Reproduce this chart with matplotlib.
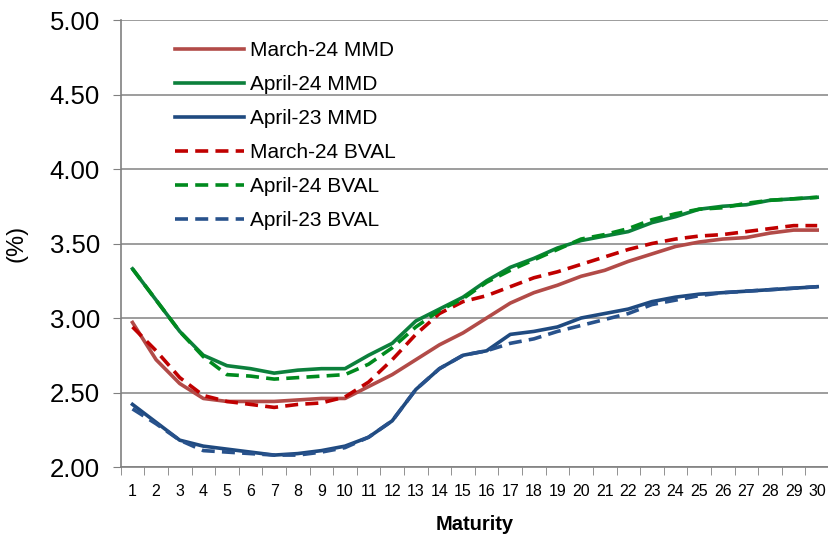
import numpy as np
import matplotlib
matplotlib.use('Agg')
import matplotlib.pyplot as plt

plt.rcParams['font.family'] = ['Liberation Sans', 'DejaVu Sans']

# maturity in years
maturity = np.arange(1, 31)

mar24_mmd = [2.97, 2.72, 2.56, 2.46, 2.44, 2.44, 2.44, 2.45, 2.46, 2.46,
             2.54, 2.62, 2.72, 2.82, 2.90, 3.00, 3.10, 3.17, 3.22, 3.28,
             3.32, 3.38, 3.43, 3.48, 3.51, 3.53, 3.54, 3.57, 3.59, 3.59]
apr24_mmd = [3.33, 3.12, 2.91, 2.75, 2.68, 2.66, 2.63, 2.65, 2.66, 2.66,
             2.75, 2.83, 2.98, 3.06, 3.14, 3.25, 3.34, 3.40, 3.47, 3.52,
             3.55, 3.58, 3.64, 3.68, 3.73, 3.75, 3.76, 3.79, 3.80, 3.81]
apr23_mmd = [2.42, 2.30, 2.18, 2.14, 2.12, 2.10, 2.08, 2.09, 2.11, 2.14,
             2.20, 2.31, 2.52, 2.66, 2.75, 2.78, 2.89, 2.91, 2.94, 3.00,
             3.03, 3.06, 3.11, 3.14, 3.16, 3.17, 3.18, 3.19, 3.20, 3.21]
mar24_bval = [2.94, 2.78, 2.60, 2.48, 2.44, 2.42, 2.40, 2.42, 2.43, 2.47,
              2.57, 2.72, 2.89, 3.03, 3.11, 3.15, 3.21, 3.27, 3.31, 3.36,
              3.41, 3.46, 3.50, 3.53, 3.55, 3.56, 3.58, 3.60, 3.62, 3.62]
apr24_bval = [3.33, 3.12, 2.91, 2.74, 2.62, 2.61, 2.59, 2.60, 2.61, 2.62,
              2.69, 2.80, 2.94, 3.05, 3.13, 3.24, 3.32, 3.39, 3.46, 3.53,
              3.56, 3.60, 3.66, 3.70, 3.73, 3.74, 3.77, 3.79, 3.80, 3.81]
apr23_bval = [2.39, 2.29, 2.18, 2.11, 2.10, 2.09, 2.08, 2.08, 2.10, 2.13,
              2.20, 2.31, 2.52, 2.66, 2.75, 2.78, 2.83, 2.86, 2.91, 2.95,
              2.99, 3.03, 3.09, 3.12, 3.15, 3.17, 3.18, 3.19, 3.20, 3.21]

y_ticks = [2.00, 2.50, 3.00, 3.50, 4.00, 4.50, 5.00]

fig = plt.figure(figsize=(8.29, 5.35), dpi=100)
ax = fig.add_axes([0.1456, 0.1271, 0.8544, 0.8355])

lw = 2.6
dash = (0, (3.6, 2.0))
ax.plot(maturity, mar24_mmd, color='#B24B48', lw=lw, label='March-24 MMD')
ax.plot(maturity, apr24_mmd, color='#0C803C', lw=lw, label='April-24 MMD')
ax.plot(maturity, apr23_mmd, color='#1F4A80', lw=lw, label='April-23 MMD')
ax.plot(maturity, mar24_bval, color='#C00000', lw=lw, ls=dash, label='March-24 BVAL')
ax.plot(maturity, apr24_bval, color='#008A1E', lw=lw, ls=dash, label='April-24 BVAL')
ax.plot(maturity, apr23_bval, color='#28528C', lw=lw, ls=dash, label='April-23 BVAL')

ax.set_xlim(0.5, 30.5)
ax.set_ylim(2.0, 5.0)
ax.set_yticks(y_ticks)
ax.set_yticklabels(['%.2f' % v for v in y_ticks], fontsize=18.5)
ax.set_xticks(maturity)
ax.set_xticklabels([str(m) for m in maturity], fontsize=11.5)
ax.set_xticks(np.arange(0.5, 31, 1), minor=True)
ax.tick_params(axis='x', which='major', length=0, pad=12)
ax.tick_params(axis='x', which='minor', length=6, color='#808080')
ax.tick_params(axis='y', length=6, color='#808080', pad=9)

ax.grid(axis='y', color='#8C8C8C', lw=1.2)
ax.set_axisbelow(True)
for s in ['top', 'right']:
    ax.spines[s].set_visible(False)
for s in ['left', 'bottom']:
    ax.spines[s].set_color('#808080')
    ax.spines[s].set_linewidth(1.2)

ax.set_xlabel('Maturity', fontsize=14.5, fontweight='bold', labelpad=12)
ax.set_ylabel('(%)', fontsize=17, labelpad=16)

ax.legend(loc='upper left', bbox_to_anchor=(0.05, 0.995), frameon=False,
          fontsize=15, handlelength=3.3, handletextpad=0.3, labelspacing=0.72)

fig.savefig('out.png', dpi=100)
